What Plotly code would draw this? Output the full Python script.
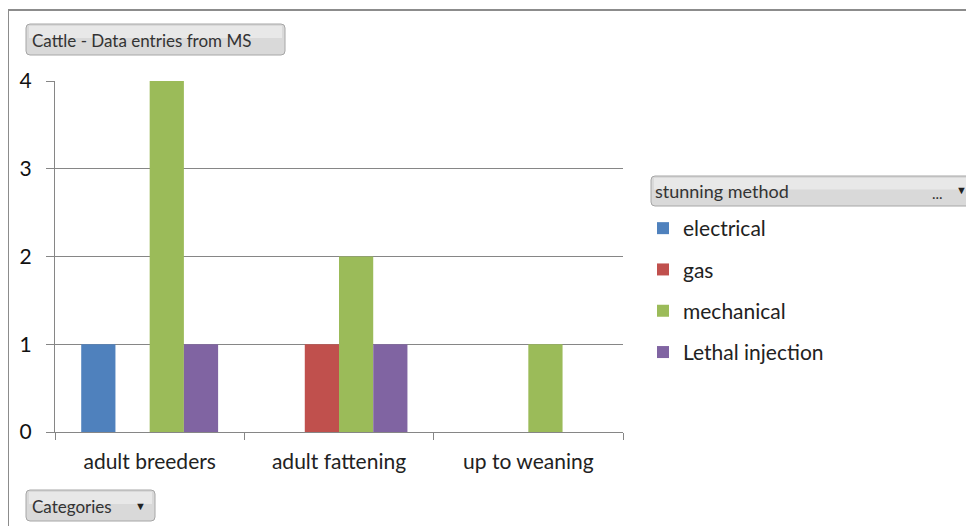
import plotly.graph_objects as go

categories = ["adult breeders", "adult fattening", "up to weaning"]
series_names = ["electrical", "gas", "mechanical", "Lethal injection"]
electrical = [1, None, None]
gas = [None, 1, None]
mechanical = [4, 2, 1]
lethal = [1, 1, None]
colors = ["#4F81BD", "#C0504D", "#9BBB59", "#8064A2"]
y_ticks = [0, 1, 2, 3, 4]

OFF = 8  # browser body margin
W, H = 974 - OFF, 526 - OFF
L, R, T, B = 55, 623, 81, 432  # plot area in reference (window) pixels

def px(x):
    return (x - L) / (R - L)

def py(y):
    return (B - y) / (B - T)

fig = go.Figure()
for name, vals, col in zip(series_names, [electrical, gas, mechanical, lethal], colors):
    fig.add_trace(go.Bar(x=categories, y=vals, name=name, marker=dict(color=col, line=dict(width=0)),
                         legendgroup=name))

FONT = "Lato"
shapes = []
annotations = []

def rounded(x0, y0, x1, y1, r=4, fill="#d9d9d9", line="#a6a6a6"):
    rx = r / (R - L)
    ry = r / (B - T)
    X0, X1 = px(x0), px(x1)
    Y0, Y1 = py(y0), py(y1)
    path = (f"M{X0+rx},{Y0} L{X1-rx},{Y0} Q{X1},{Y0} {X1},{Y0-ry} "
            f"L{X1},{Y1+ry} Q{X1},{Y1} {X1-rx},{Y1} L{X0+rx},{Y1} "
            f"Q{X0},{Y1} {X0},{Y1+ry} L{X0},{Y0-ry} Q{X0},{Y0} {X0+rx},{Y0} Z")
    shapes.append(dict(type="path", xref="paper", yref="paper", path=path,
                       fillcolor=fill, line=dict(color=line, width=1), layer="above"))
    shapes.append(dict(type="rect", xref="paper", yref="paper",
                       x0=px(x0 + 3), x1=px(x1 - 3), y0=py(y0 + 2), y1=py(y0 + (y1 - y0) * 0.45),
                       fillcolor="rgba(255,255,255,0.4)", line=dict(width=0), layer="above"))

def text(x, y, s, size, color="#333333", anchor="left"):
    annotations.append(dict(x=px(x), y=py(y), xref="paper", yref="paper", text=s, showarrow=False,
                            xanchor=anchor, yanchor="middle", font=dict(family=FONT, size=size, color=color)))

# outer frame (top and left edges)
shapes.append(dict(type="line", xref="paper", yref="paper", x0=px(8), x1=px(990), y0=py(10), y1=py(10),
                   line=dict(color="#8c8c8c", width=2)))
shapes.append(dict(type="line", xref="paper", yref="paper", x0=px(8), x1=px(8), y0=py(10), y1=py(540),
                   line=dict(color="#8c8c8c", width=2)))

# field buttons
rounded(26, 24, 285, 55)
text(30, 40, "Cattle - Data entries from MS", 17)
rounded(651, 176, 990, 206)
text(653, 191, "stunning method", 18)
text(937, 193, "...", 15, anchor="center")
text(961, 189, "▼", 11, color="#222222", anchor="center")
rounded(26, 490, 155, 521)
text(30, 506, "Categories", 17)
text(140, 505, "▼", 11, color="#222222", anchor="center")

fig.update_layout(
    width=W, height=H,
    margin=dict(l=L - OFF, r=974 - R, t=T - OFF, b=526 - B, pad=0),
    paper_bgcolor="white", plot_bgcolor="white",
    barmode="group", bargap=0.277, bargroupgap=0,
    font=dict(family=FONT, size=21, color="#222222"),
    showlegend=True,
    legend=dict(x=px(643), y=py(208), xanchor="left", yanchor="top",
                font=dict(family=FONT, size=21, color="#222222"),
                traceorder="grouped", tracegroupgap=11, itemwidth=30,
                bgcolor="rgba(0,0,0,0)"),
    shapes=shapes, annotations=annotations,
)
fig.update_xaxes(type="category", showline=True, linecolor="#868686", linewidth=1,
                 ticks="outside", ticklen=7, tickcolor="#868686", tickson="boundaries",
                 showgrid=False, tickfont=dict(size=21, color="#222222"), ticklabelstandoff=11)
fig.update_yaxes(range=[0, 4], tickvals=y_ticks, showline=True, linecolor="#868686", linewidth=1,
                 ticks="outside", ticklen=8, tickcolor="#868686",
                 showgrid=True, gridcolor="#868686", gridwidth=1, zeroline=False,
                 tickfont=dict(size=21, color="#111111"), ticklabelstandoff=10)

fig.write_html("out.html")
